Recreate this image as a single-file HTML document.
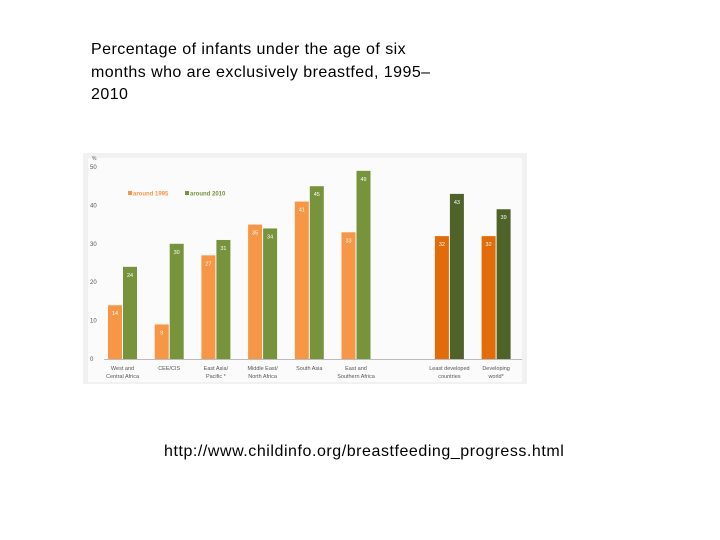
<!DOCTYPE html>
<html><head><meta charset="utf-8"><style>
body{margin:0;width:720px;height:540px;background:#fff;font-family:"Liberation Sans",sans-serif;overflow:hidden;position:relative}
.t{position:absolute;left:91px;top:39px;font-size:16px;letter-spacing:0.45px;line-height:22.5px;color:#000}
.u{position:absolute;left:164px;top:443px;font-size:16px;letter-spacing:0.55px;color:#000}
svg{position:absolute;left:0;top:0}
</style></head><body>
<div class="t">Percentage of infants under the age of six<br>months who are exclusively breastfed, 1995–<br>2010</div>
<svg width="720" height="540" id="c"></svg>
<div class="u">http://www.childinfo.org/breastfeeding_progress.html</div>
<script>
const categories=[["West and","Central Africa"],["CEE/CIS"],["East Asia/","Pacific *"],["Middle East/","North Africa"],["South Asia"],["East and","Southern Africa"],null,["Least developed","countries"],["Developing","world*"]];
const v1995=[14,9,27,35,41,33,null,32,32];
const v2010=[24,30,31,34,45,49,null,43,39];
const ticks=[0,10,20,30,40,50];
const NS="http://www.w3.org/2000/svg";
const svg=document.getElementById('c');
function el(t,a,p){const e=document.createElementNS(NS,t);for(const k in a)e.setAttribute(k,a[k]);(p||svg).appendChild(e);return e;}
const y=v=>359-v*3.84;
const x=i=>108+i*46.7;
const bg=el('rect',{x:83,y:153,width:444,height:231,fill:'#f1f1f1'});


el('rect',{x:88,y:158,width:434,height:224,fill:'#fbfbfb'});
el('line',{x1:104,x2:522,y1:359.5,y2:359.5,stroke:'#bbb','stroke-width':1});
el('text',{x:92,y:160,'font-size':5,fill:'#555'}).textContent='%';
ticks.forEach(t=>{const e=el('text',{x:90,y:y(t)+2,'font-size':6,fill:'#555'});e.textContent=t;

});
categories.forEach((c,i)=>{if(!c)return;
const dark=i>=7;
[[v1995[i],dark?'#e36c0a':'#f79646',0],[v2010[i],dark?'#4f6228':'#77933c',15]].forEach(([v,col,off],k)=>{
const r=el('rect',{x:x(i)+off,y:y(v),width:14,height:v*3.84,fill:col});


const l=el('text',{x:x(i)+off+7,y:y(v)+10,'font-size':5.5,fill:'#fff','text-anchor':'middle'});l.textContent=v;});
c.forEach((s,j)=>{const e=el('text',{x:x(i)+14.5,y:370+j*8,'font-size':5.5,fill:'#555','text-anchor':'middle'});e.textContent=s;

});
});
const lg=el('g',{});


el('rect',{x:128,y:191,width:4,height:4,fill:'#f79646'},lg);
el('text',{x:133,y:195.5,'font-size':6,fill:'#f79646','font-weight':'bold'},lg).textContent='around 1995';
el('rect',{x:185,y:191,width:4,height:4,fill:'#77933c'},lg);
el('text',{x:190,y:195.5,'font-size':6,fill:'#77933c','font-weight':'bold'},lg).textContent='around 2010';
</script>
</body></html>
